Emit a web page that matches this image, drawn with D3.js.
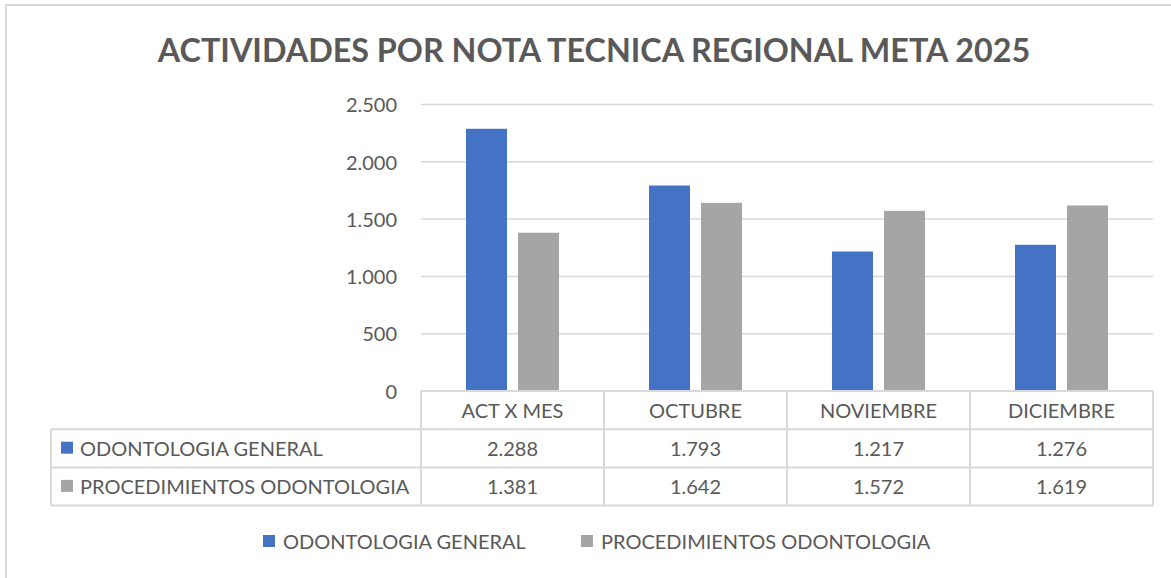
<!DOCTYPE html>
<html lang="es">
<head>
    <meta charset="UTF-8">
    <title>Actividades por nota tecnica</title>
    <script src="https://d3js.org/d3.v7.min.js"></script>
    <style>
        body { margin: 0; background: #fff; }
        text { font-family: Lato, "Open Sans", sans-serif; fill: #595959; }
        .title { font-weight: bold; font-size: 32.3px; }
        .tick-label, .cell, .row-label, .legend-label { font-size: 20px; }
    </style>
</head>
<body>
<div id="chart"></div>

<script>
    // data
    var categories = ["ACT X MES", "OCTUBRE", "NOVIEMBRE", "DICIEMBRE"];
    var seriesNames = ["ODONTOLOGIA GENERAL", "PROCEDIMIENTOS ODONTOLOGIA"];
    var general = [2288, 1793, 1217, 1276];
    var procedimientos = [1381, 1642, 1572, 1619];
    var yTicks = [0, 500, 1000, 1500, 2000, 2500];
    var colors = ["#4472C4", "#A5A5A5"];

    var series = [general, procedimientos];

    var width = 1171, height = 578;
    var plot = {left: 421, right: 1153, top: 104.5, bottom: 391};
    var rowH = 38.2;
    var tableLeft = 51;

    var es = d3.formatLocale({decimal: ",", thousands: ".", grouping: [3], currency: ["$", ""]});
    var fmt = es.format(",d");

    var svg = d3.select("#chart").append("svg")
        .attr("width", width)
        .attr("height", height);

    // outer frame
    svg.append("rect")
        .attr("x", 6).attr("y", 5)
        .attr("width", width + 20).attr("height", height + 20)
        .attr("fill", "none")
        .attr("stroke", "#d9d9d9")
        .attr("stroke-width", 2);

    svg.append("text")
        .attr("class", "title")
        .attr("x", 594).attr("y", 62)
        .attr("text-anchor", "middle")
        .text("ACTIVIDADES POR NOTA TECNICA REGIONAL META 2025");

    var x = d3.scaleBand()
        .domain(categories)
        .range([plot.left, plot.right]);

    var xSub = d3.scaleBand()
        .domain(d3.range(series.length))
        .range([0, x.bandwidth()])
        .paddingInner(0.2115)
        .paddingOuter(0.865);

    var y = d3.scaleLinear()
        .domain([0, 2500])
        .range([plot.bottom, plot.top]);

    // gridlines
    svg.append("g").selectAll("line")
        .data(yTicks.filter(function (d) { return d > 0; }))
        .enter().append("line")
        .attr("x1", plot.left).attr("x2", plot.right)
        .attr("y1", function (d) { return y(d); })
        .attr("y2", function (d) { return y(d); })
        .attr("stroke", "#d9d9d9")
        .attr("stroke-width", 1.5);

    // y axis labels
    var yAxis = svg.append("g")
        .attr("transform", "translate(" + plot.left + ",0)")
        .call(d3.axisLeft(y).tickValues(yTicks).tickFormat(fmt).tickSize(0).tickPadding(24));
    yAxis.select(".domain").remove();
    yAxis.selectAll("text")
        .attr("class", "tick-label")
        .attr("fill", null)
        .attr("dy", "0.36em");
    yAxis.attr("font-size", null).attr("font-family", null);

    // bars
    series.forEach(function (vals, si) {
        svg.append("g").selectAll("rect")
            .data(vals)
            .enter().append("rect")
            .attr("x", function (d, i) { return x(categories[i]) + xSub(si); })
            .attr("width", xSub.bandwidth())
            .attr("y", function (d) { return y(d); })
            .attr("height", function (d) { return y(0) - y(d); })
            .attr("fill", colors[si]);
    });

    // data table
    var table = svg.append("g");
    var lineColor = "#d9d9d9";
    var rows = [plot.bottom, plot.bottom + rowH, plot.bottom + 2 * rowH, plot.bottom + 3 * rowH];

    function hline(x1, x2, yy) {
        table.append("line").attr("x1", x1).attr("x2", x2).attr("y1", yy).attr("y2", yy)
            .attr("stroke", lineColor).attr("stroke-width", 2);
    }
    function vline(xx, y1, y2) {
        table.append("line").attr("x1", xx).attr("x2", xx).attr("y1", y1).attr("y2", y2)
            .attr("stroke", lineColor).attr("stroke-width", 2);
    }

    hline(plot.left, plot.right, rows[0]);
    hline(tableLeft, plot.right, rows[1]);
    hline(tableLeft, plot.right, rows[2]);
    hline(tableLeft, plot.right, rows[3]);
    vline(tableLeft, rows[1], rows[3]);
    categories.forEach(function (c) { vline(x(c), rows[0], rows[3]); });
    vline(plot.right, rows[0], rows[3]);

    // header
    table.selectAll(".head")
        .data(categories)
        .enter().append("text")
        .attr("class", "cell")
        .attr("x", function (d) { return x(d) + x.bandwidth() / 2; })
        .attr("y", rows[0] + 27)
        .attr("text-anchor", "middle")
        .text(function (d) { return d; });

    series.forEach(function (vals, si) {
        var top = rows[si + 1];
        table.append("rect")
            .attr("x", 61).attr("y", top + 12.5)
            .attr("width", 12).attr("height", 12)
            .attr("fill", colors[si]);
        table.append("text")
            .attr("class", "row-label")
            .attr("x", 80).attr("y", top + 27)
            .text(seriesNames[si]);
        table.selectAll(".v" + si)
            .data(vals)
            .enter().append("text")
            .attr("class", "cell")
            .attr("x", function (d, i) { return x(categories[i]) + x.bandwidth() / 2; })
            .attr("y", top + 27)
            .attr("text-anchor", "middle")
            .text(function (d) { return fmt(d); });
    });

    // legend
    var legendX = [263, 581];
    var legend = svg.append("g");
    seriesNames.forEach(function (name, si) {
        legend.append("rect")
            .attr("x", legendX[si]).attr("y", 535)
            .attr("width", 12).attr("height", 12)
            .attr("fill", colors[si]);
        legend.append("text")
            .attr("class", "legend-label")
            .attr("x", legendX[si] + 20).attr("y", 549)
            .text(name);
    });
</script>
</body>
</html>
